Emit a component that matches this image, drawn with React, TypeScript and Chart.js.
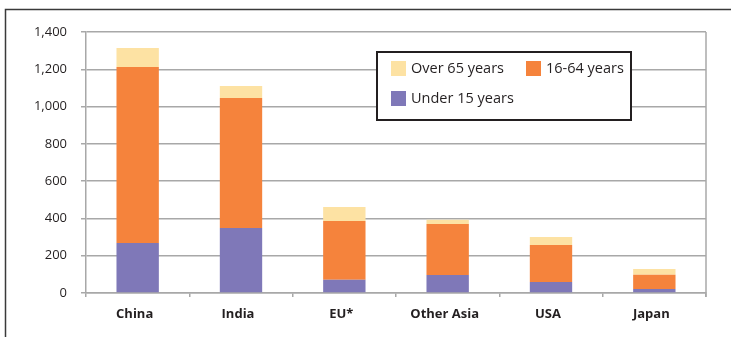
import React, { useEffect, useRef } from "react";
import { Chart, registerables } from "chart.js";

Chart.register(...registerables);

// Population by age group (millions)
const categories = ["China", "India", "EU*", "Other Asia", "USA", "Japan"];
const under15 = [268, 349, 71, 97, 59, 21];
const age16to64 = [944, 697, 315, 273, 198, 77];
const over65 = [102, 64, 75, 23, 43, 31];

const seriesLabels = ["Under 15 years", "16-64 years", "Over 65 years"];
const seriesColors = ["#7f78b8", "#f5833c", "#fde2a3"];

const yMin = 0;
const yMax = 1400;
const yStep = 200;

const GRID = "#a8a8a8";
const FONT = "'Open Sans', 'DejaVu Sans', sans-serif";

// Outer frame around the whole figure
const framePlugin = {
  id: "frame",
  beforeDraw(chart: any) {
    const ctx = chart.ctx;
    ctx.save();
    ctx.fillStyle = "#ffffff";
    ctx.fillRect(0, 0, chart.width, chart.height);
    ctx.strokeStyle = "#3a3a3a";
    ctx.lineWidth = 1.5;
    ctx.strokeRect(5.5, 9.5, chart.width + 40, chart.height + 40);
    ctx.restore();
  },
};

// Right-hand edge of the plot area
const plotEdgePlugin = {
  id: "plotEdge",
  afterDatasetsDraw(chart: any) {
    const { right, top, bottom } = chart.chartArea;
    const ctx = chart.ctx;
    ctx.save();
    ctx.strokeStyle = GRID;
    ctx.lineWidth = 1.5;
    ctx.beginPath();
    ctx.moveTo(right, top);
    ctx.lineTo(right, bottom + 4);
    ctx.stroke();
    ctx.restore();
  },
};

// Boxed legend drawn inside the plot area
const boxLegendPlugin = {
  id: "boxLegend",
  afterDraw(chart: any) {
    const ctx = chart.ctx;
    const x0 = 377;
    const y0 = 52;
    const w = 254;
    const h = 68;
    ctx.save();
    ctx.fillStyle = "#ffffff";
    ctx.fillRect(x0, y0, w, h);
    ctx.lineWidth = 2;
    ctx.strokeStyle = "#231f20";
    ctx.strokeRect(x0, y0, w, h);

    const items = [
      { ds: 2, x: 391, y: 61 },
      { ds: 1, x: 526, y: 61 },
      { ds: 0, x: 391, y: 91 },
    ];
    ctx.font = `14.5px ${FONT}`;
    ctx.textBaseline = "middle";
    ctx.textAlign = "left";
    for (const it of items) {
      const dataset = chart.data.datasets[it.ds];
      ctx.fillStyle = dataset.backgroundColor as string;
      ctx.fillRect(it.x, it.y, 15, 15);
      ctx.fillStyle = "#231f20";
      ctx.fillText(dataset.label, it.x + 20, it.y + 7.5);
    }
    ctx.restore();
  },
};

export default function App() {
  const canvasRef = useRef<HTMLCanvasElement | null>(null);

  useEffect(() => {
    if (!canvasRef.current) return;
    const seriesValues = [under15, age16to64, over65];
    const chart = new Chart(canvasRef.current, {
      type: "bar",
      data: {
        labels: categories,
        datasets: seriesValues.map((values, i) => ({
          label: seriesLabels[i],
          data: values,
          backgroundColor: seriesColors[i],
          borderWidth: 0,
          categoryPercentage: 1,
          barPercentage: 0.41,
        })),
      },
      options: {
        responsive: false,
        animation: false,
        devicePixelRatio: 1,
        layout: { padding: { left: 0, top: 32, right: 25, bottom: 0 } },
        plugins: {
          legend: { display: false },
          tooltip: { enabled: false },
        },
        scales: {
          x: {
            stacked: true,
            grid: {
              display: true,
              offset: true,
              drawOnChartArea: false,
              drawTicks: true,
              tickLength: 4,
              color: GRID,
              lineWidth: 1.5,
            },
            border: { display: true, color: GRID, width: 1.5 },
            ticks: {
              color: "#231f20",
              padding: 9,
              labelOffset: -3,
              font: { family: FONT, size: 13, weight: "bold" },
            },
            afterFit(scale: any) {
              scale.height = 44;
            },
          },
          y: {
            stacked: true,
            min: yMin,
            max: yMax,
            grid: {
              color: GRID,
              lineWidth: 1.5,
              drawTicks: true,
              tickLength: 5,
            },
            border: { display: true, color: GRID, width: 1.5 },
            ticks: {
              stepSize: yStep,
              color: "#231f20",
              padding: 14,
              font: { family: FONT, size: 13 },
              callback: (v: any) => Number(v).toLocaleString("en-US"),
            },
            afterFit(scale: any) {
              scale.width = 86;
            },
          },
        },
      },
      plugins: [framePlugin, plotEdgePlugin, boxLegendPlugin],
    });
    return () => chart.destroy();
  }, []);

  return (
    <div style={{ position: "absolute", left: 0, top: 0, width: 731, height: 337, background: "#fff" }}>
      <canvas ref={canvasRef} width={731} height={337} style={{ display: "block" }} />
    </div>
  );
}
